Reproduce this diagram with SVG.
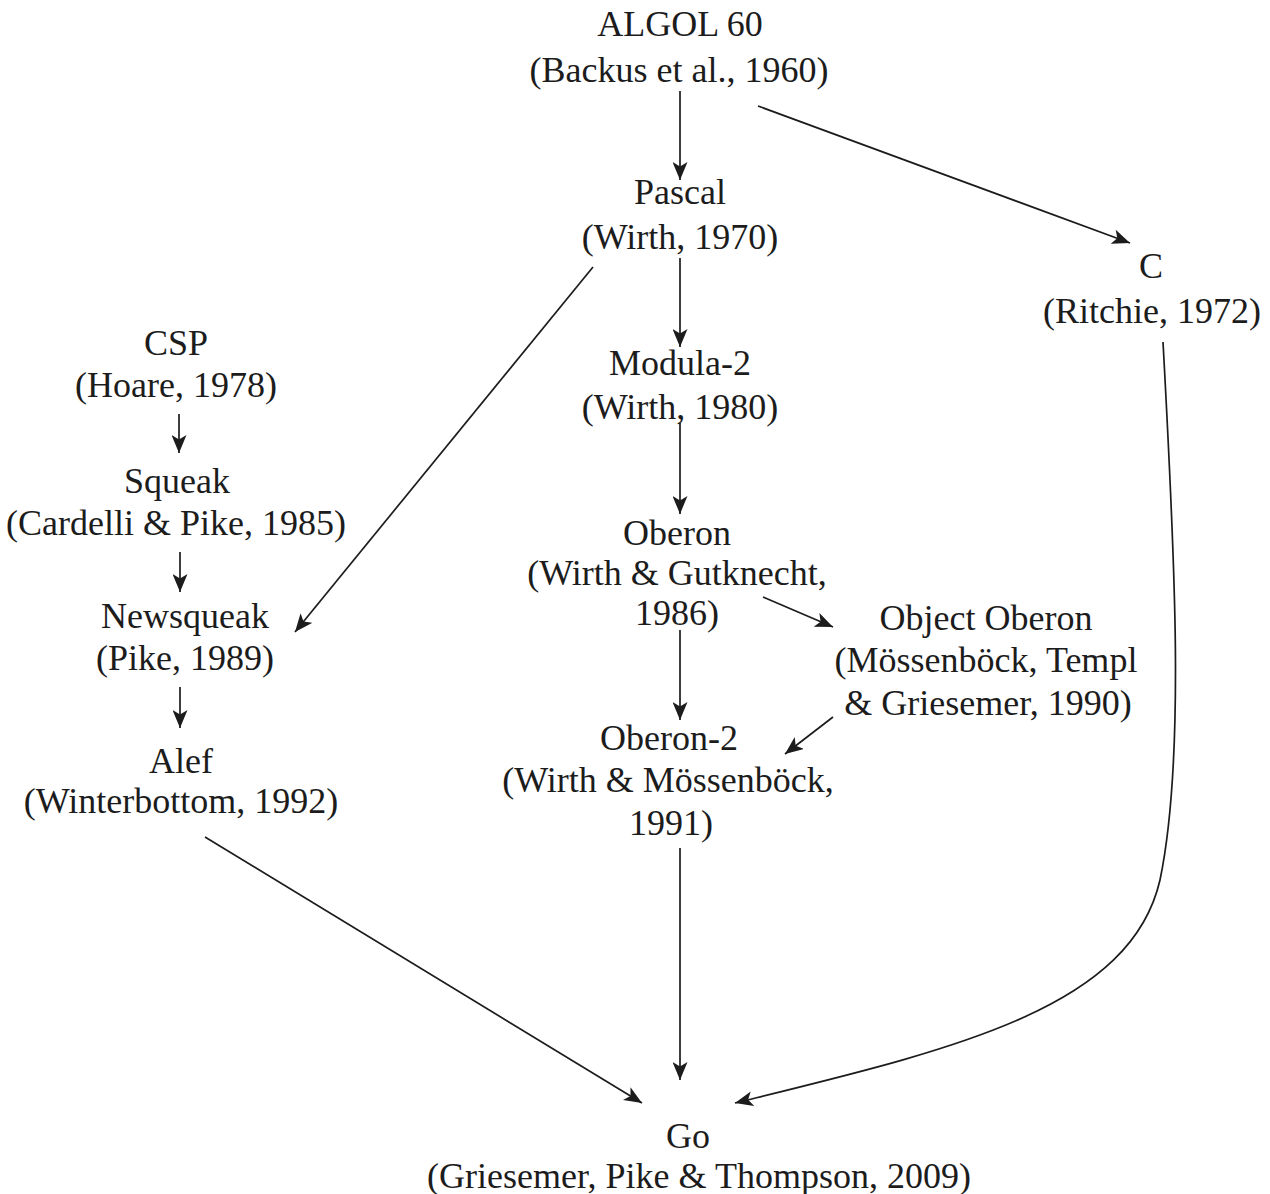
<svg xmlns="http://www.w3.org/2000/svg" width="1270" height="1194" viewBox="0 0 1270 1194">
  <style>
    .lbl { font-family: "Liberation Serif", "Times New Roman", serif; font-size: 36px; fill: #1c1c1c; text-anchor: middle; }
    .edge { fill: none; stroke: #1c1c1c; stroke-width: 1.7; marker-end: url(#head); }
  </style>
  <defs>
    <!-- filled arrowhead with a slightly notched back -->
    <marker id="head" viewBox="0 0 18 15" refX="18" refY="7.5" markerWidth="18" markerHeight="15" markerUnits="userSpaceOnUse" orient="auto">
      <path d="M0,0 L18,7.5 L0,15 L4.5,7.5 Z" fill="#1c1c1c"/>
    </marker>
  </defs>
  <rect width="1270" height="1194" fill="#ffffff"/>

  <g id="algol60">
    <text class="lbl" x="680" y="36">ALGOL 60</text>
    <text class="lbl" x="679" y="82">(Backus et al., 1960)</text>
  </g>
  <g id="pascal">
    <text class="lbl" x="680" y="204">Pascal</text>
    <text class="lbl" x="680" y="249">(Wirth, 1970)</text>
  </g>
  <g id="c">
    <text class="lbl" x="1151" y="278">C</text>
    <text class="lbl" x="1152" y="323">(Ritchie, 1972)</text>
  </g>
  <g id="csp">
    <text class="lbl" x="176" y="355">CSP</text>
    <text class="lbl" x="176" y="397">(Hoare, 1978)</text>
  </g>
  <g id="squeak">
    <text class="lbl" x="177" y="493">Squeak</text>
    <text class="lbl" x="176" y="535">(Cardelli &amp; Pike, 1985)</text>
  </g>
  <g id="newsqueak">
    <text class="lbl" x="185" y="628">Newsqueak</text>
    <text class="lbl" x="185" y="670">(Pike, 1989)</text>
  </g>
  <g id="alef">
    <text class="lbl" x="181" y="773">Alef</text>
    <text class="lbl" x="181" y="813">(Winterbottom, 1992)</text>
  </g>
  <g id="modula2">
    <text class="lbl" x="680" y="375">Modula-2</text>
    <text class="lbl" x="680" y="419">(Wirth, 1980)</text>
  </g>
  <g id="oberon">
    <text class="lbl" x="677" y="545">Oberon</text>
    <text class="lbl" x="677" y="585">(Wirth &amp; Gutknecht,</text>
    <text class="lbl" x="677" y="625">1986)</text>
  </g>
  <g id="object-oberon">
    <text class="lbl" x="986" y="630">Object Oberon</text>
    <text class="lbl" x="986" y="672">(Mössenböck, Templ</text>
    <text class="lbl" x="988" y="715">&amp; Griesemer, 1990)</text>
  </g>
  <g id="oberon2">
    <text class="lbl" x="669" y="750">Oberon-2</text>
    <text class="lbl" x="668" y="792">(Wirth &amp; Mössenböck,</text>
    <text class="lbl" x="671" y="835">1991)</text>
  </g>
  <g id="go">
    <text class="lbl" x="688" y="1148">Go</text>
    <text class="lbl" x="699" y="1188">(Griesemer, Pike &amp; Thompson, 2009)</text>
  </g>

  <g id="connectors">
    <line class="edge" x1="680" y1="91" x2="680" y2="180"/>
    <line class="edge" x1="758" y1="106" x2="1130" y2="243"/>
    <line class="edge" x1="680" y1="258" x2="680" y2="347"/>
    <line class="edge" x1="680" y1="423" x2="680" y2="514"/>
    <line class="edge" x1="593" y1="267" x2="295" y2="632"/>
    <line class="edge" x1="179" y1="414" x2="179" y2="453"/>
    <line class="edge" x1="180" y1="552" x2="180" y2="592"/>
    <line class="edge" x1="180" y1="687" x2="180" y2="728"/>
    <line class="edge" x1="680" y1="630" x2="680" y2="720"/>
    <line class="edge" x1="763" y1="597" x2="833" y2="627"/>
    <line class="edge" x1="833" y1="717" x2="785" y2="754"/>
    <line class="edge" x1="680" y1="848" x2="680" y2="1080"/>
    <line class="edge" x1="205" y1="837" x2="642" y2="1103"/>
    <path class="edge" d="M1163,342 C1175,560 1185,760 1160,880 C1130,1010 950,1050 735,1103"/>
  </g>
</svg>
